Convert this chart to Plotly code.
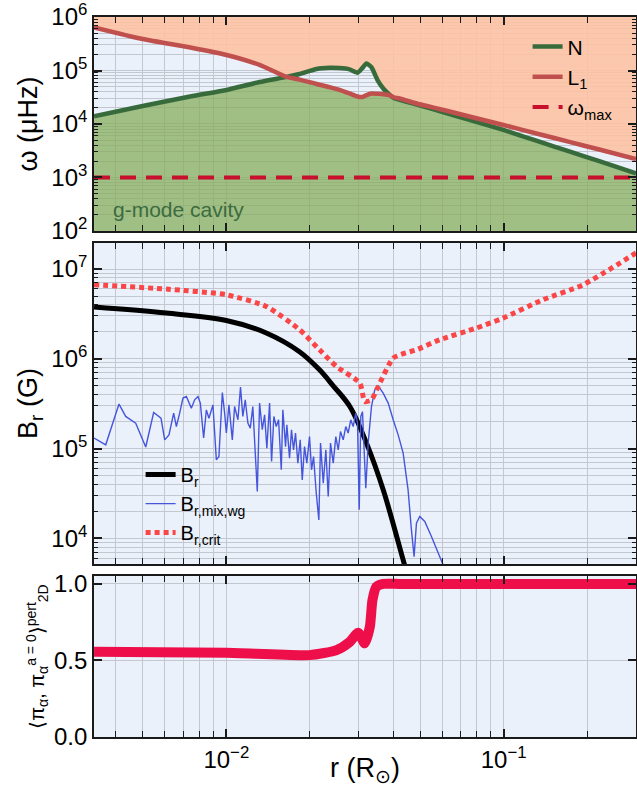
import numpy as np
import plotly.graph_objects as go

# ---------------- data ----------------
# radius grid for the frequency profiles (R_sun)
r_prof = [0.003335, 0.004995, 0.007561, 0.010025, 0.01318, 0.01649, 0.01836, 0.02115,
          0.02356, 0.02560, 0.02780, 0.02972, 0.03097, 0.03201, 0.03337, 0.03508,
          0.03686, 0.03876, 0.04006, 0.04210, 0.04969, 0.05866, 0.07521, 0.09975,
          0.1345, 0.1724, 0.2212, 0.3]
# Brunt-Vaisala frequency N (uHz)
N_freq = [1.39e4, 2.17e4, 3.33e4, 4.33e4, 6.10e4, 7.59e4, 8.61e4, 1.07e5,
          1.12e5, 1.11e5, 1.05e5, 9.12e4, 1.12e5, 1.35e5, 1.15e5, 6.61e4,
          4.57e4, 3.55e4, 3.09e4, 2.82e4, 2.24e4, 1.74e4, 1.20e4, 7.73e3,
          4.67e3, 3.07e3, 2.02e3, 1.20e3]
# Lamb frequency L1 (uHz)
L1_freq = [6.41e5, 3.88e5, 2.64e5, 1.95e5, 1.27e5, 7.57e4, 6.76e4, 5.60e4,
           4.90e4, 4.33e4, 3.72e4, 3.27e4, 3.20e4, 3.47e4, 3.72e4, 3.67e4,
           3.61e4, 3.47e4, 3.16e4, 2.99e4, 2.34e4, 1.91e4, 1.38e4, 9.57e3,
           6.44e3, 4.63e3, 3.33e3, 2.22e3]
omega_max = 1.0e3

# radial field B_r (G)
r_br = [0.003335, 0.006081, 0.01, 0.01393, 0.01836, 0.02168, 0.02429, 0.02788,
        0.03201, 0.03678, 0.04341, 0.04769]
B_r = [3.77e6, 3.23e6, 2.67e6, 1.94e6, 1.20e6, 7.54e5, 5.0e5, 2.94e5,
       1.15e5, 3.47e4, 5.74e3, 2.0e3]

# critical field B_r,crit (G)
r_crit = [0.003335, 0.006081, 0.01, 0.01393, 0.01836, 0.02168, 0.02496, 0.03029,
          0.03157, 0.03337, 0.03528, 0.03996, 0.04341, 0.04847, 0.05881, 0.07973,
          0.09950, 0.1386, 0.1932, 0.3]
B_crit = [6.68e6, 5.98e6, 5.17e6, 3.83e6, 2.11e6, 1.26e6, 8.20e5, 5.36e5,
          3.34e5, 3.49e5, 4.91e5, 1.02e6, 1.14e6, 1.26e6, 1.63e6, 2.20e6,
          2.84e6, 4.55e6, 6.68e6, 1.51e7]

# mixed-mode field B_r,mix,wg (G)
r_mix = [0.003335, 0.003674, 0.004102, 0.004337, 0.004713, 0.005122, 0.005470, 0.005814,
         0.005994, 0.006212, 0.006459, 0.006605, 0.006788, 0.006977, 0.007176, 0.007479,
         0.007687, 0.007901, 0.008059, 0.008283, 0.008472, 0.008655, 0.008947, 0.009204,
         0.009404, 0.009674, 0.009860, 0.01000, 0.01022, 0.01051, 0.01071, 0.01101,
         0.01125, 0.01147, 0.01170, 0.01196, 0.01220, 0.01246, 0.01293, 0.01318,
         0.01348, 0.01374, 0.01400, 0.01432, 0.01456, 0.01484, 0.01514, 0.01543,
         0.01578, 0.01599, 0.01635, 0.01653, 0.01690, 0.01718, 0.01747, 0.01776,
         0.01811, 0.01847, 0.01878, 0.01914, 0.01951, 0.01995, 0.02029, 0.02063,
         0.02110, 0.02156, 0.02186, 0.02236, 0.02285, 0.02330, 0.02375, 0.02429,
         0.02482, 0.02532, 0.02580, 0.02639, 0.02696, 0.02750, 0.02810, 0.02867,
         0.02929, 0.02972, 0.03014, 0.03054, 0.03097, 0.03141, 0.03183, 0.03247,
         0.03337, 0.03429, 0.03528, 0.03678, 0.03834, 0.03996, 0.04165, 0.04341,
         0.04522, 0.04649, 0.04754, 0.04847, 0.04982, 0.05193, 0.05490, 0.06015, 0.06306]
B_mix = [1.31e5, 1.10e5, 3.13e5, 2.28e5, 1.92e5, 1.04e5, 2.52e5, 2.18e5,
         1.25e5, 1.42e5, 2.48e5, 1.76e5, 2.48e5, 3.65e5, 3.80e5, 2.82e5,
         3.49e5, 3.80e5, 3.21e5, 1.31e5, 2.70e5, 2.18e5, 3.07e5, 7.48e4,
         8.15e4, 4.21e5, 2.48e5, 1.49e5, 3.07e5, 1.25e5, 2.94e5, 2.09e5,
         4.84e5, 2.28e5, 3.49e5, 1.92e5, 1.69e5, 2.94e5, 3.32e4, 3.21e5,
         1.62e5, 2.38e5, 1.01e5, 3.21e5, 7.16e4, 2.28e5, 1.76e5, 2.09e5,
         5.80e4, 2.70e5, 1.05e5, 1.84e5, 7.82e4, 1.62e5, 9.66e4, 1.49e5,
         6.87e4, 1.25e5, 4.48e4, 1.05e5, 6.87e4, 1.36e5, 5.80e4, 8.15e4,
         3.18e4, 1.60e4, 1.15e5, 4.11e4, 9.66e4, 2.92e4, 1.15e5, 6.87e4,
         1.36e5, 9.66e4, 1.55e5, 1.25e5, 1.76e5, 1.49e5, 2.09e5, 1.76e5,
         2.48e5, 1.92e5, 2.08e4, 2.28e5, 2.58e5, 7.16e4, 3.62e4, 1.15e5,
         2.94e5, 4.51e5, 5.00e5, 4.15e5, 3.21e5, 2.09e5, 1.42e5, 8.89e4,
         3.47e4, 1.24e4, 6.25e3, 1.47e4, 1.75e4, 1.54e4, 1.05e4, 5.27e3, 3.43e3]

# 2D perturbation overlap
r_pi = [0.003335, 0.01, 0.01995, 0.02496, 0.02788, 0.02988, 0.03157, 0.03292,
        0.03365, 0.03478, 0.03678, 0.0421, 0.1, 0.3]
pi_overlap = [0.557, 0.550, 0.535, 0.568, 0.622, 0.681, 0.612, 0.720,
              0.895, 0.982, 1.0, 1.0, 1.0, 1.0]

x_major = [0.01, 0.1]
x_major_text = ["10<sup>\u22122</sup>", "10<sup>\u22121</sup>"]
y1_major = [1e2, 1e3, 1e4, 1e5, 1e6]
y2_major = [1e4, 1e5, 1e6, 1e7]
y3_major = [0.0, 0.5, 1.0]

# ---------------- styling ----------------
FONT = "Liberation Sans, Arial, Helvetica, sans-serif"
BG = "#eaf1fb"
GRID = "#c3c7cf"
AXC = "#1a1a1a"
TICK_SIZE = 24
TITLE_SIZE = 27

x_minor = [m * 10.0 ** e for e in (-3, -2, -1) for m in range(2, 10)]
x_minor = [v for v in x_minor if 1 / 300 <= v <= 0.3 and v not in (0.01, 0.1)]


def log_minor(lo, hi):
    return [m * 10.0 ** e for e in range(lo, hi + 1) for m in range(2, 10)]


fig = go.Figure()

# ---- top panel: propagation diagram ----
N_arr = np.array(N_freq)
L_arr = np.array(L1_freq)
lower = np.minimum(N_arr, L_arr)
upper = np.maximum(N_arr, L_arr)
SPL = dict(shape="spline", smoothing=0.5)

fig.add_trace(go.Scatter(x=r_prof, y=[1.0] * len(r_prof), mode="lines",
                         line=dict(width=0), showlegend=False, hoverinfo="skip",
                         xaxis="x", yaxis="y"))
fig.add_trace(go.Scatter(x=r_prof, y=lower, mode="lines", line=dict(width=0, **SPL),
                         fill="tonexty", fillcolor="rgba(135,174,94,0.75)",
                         showlegend=False, hoverinfo="skip", xaxis="x", yaxis="y"))
fig.add_trace(go.Scatter(x=r_prof, y=upper, mode="lines", line=dict(width=0, **SPL),
                         showlegend=False, hoverinfo="skip", xaxis="x", yaxis="y"))
fig.add_trace(go.Scatter(x=r_prof, y=[1e8] * len(r_prof), mode="lines",
                         line=dict(width=0), fill="tonexty",
                         fillcolor="rgba(255,193,159,0.86)",
                         showlegend=False, hoverinfo="skip", xaxis="x", yaxis="y"))

fig.add_trace(go.Scatter(x=r_prof, y=N_freq, mode="lines", name="N",
                         line=dict(color="#386b3c", width=4.5, **SPL),
                         xaxis="x", yaxis="y", legend="legend"))
fig.add_trace(go.Scatter(x=r_prof, y=L1_freq, mode="lines", name="L<sub>1</sub>",
                         line=dict(color="#c0504d", width=4.5, **SPL),
                         xaxis="x", yaxis="y", legend="legend"))
fig.add_trace(go.Scatter(x=[1 / 300, 0.3], y=[omega_max, omega_max], mode="lines",
                         name="\u03c9<sub>max</sub>",
                         line=dict(color="#c8102e", width=4, dash="16px,10px"),
                         xaxis="x", yaxis="y", legend="legend"))

# ---- middle panel: field strengths ----
fig.add_trace(go.Scatter(x=r_br, y=B_r, mode="lines", name="B<sub>r</sub>",
                         line=dict(color="black", width=5, shape="spline"),
                         xaxis="x2", yaxis="y2", legend="legend2"))
fig.add_trace(go.Scatter(x=r_mix, y=B_mix, mode="lines",
                         name="B<sub>r,mix,wg</sub>",
                         line=dict(color="#4656dc", width=1.4),
                         xaxis="x2", yaxis="y2", legend="legend2"))
fig.add_trace(go.Scatter(x=r_crit, y=B_crit, mode="lines",
                         name="B<sub>r,crit</sub>",
                         line=dict(color="#fa4646", width=5, dash="5px,4px",
                                   shape="spline", smoothing=0.6),
                         xaxis="x2", yaxis="y2", legend="legend2"))

# ---- bottom panel: overlap ----
fig.add_trace(go.Scatter(x=r_pi, y=pi_overlap, mode="lines", showlegend=False,
                         line=dict(color="#ee0f4a", width=10, shape="spline",
                                   smoothing=0.6),
                         xaxis="x3", yaxis="y3"))

fig.add_annotation(text="g-mode cavity", xref="paper", yref="paper",
                   x=0.031, y=0.732, xanchor="left", yanchor="middle",
                   showarrow=False, font=dict(family=FONT, size=21, color="#3c6b40"))

# ---------------- axes ----------------
xr = [np.log10(1 / 300), np.log10(0.3)]
common_x = dict(type="log", range=xr, tickmode="array", tickvals=x_major,
                ticktext=x_major_text, ticks="inside", ticklen=8, tickwidth=1.5,
                tickcolor=AXC, mirror="allticks", showline=True, linecolor=AXC,
                linewidth=1.6, showgrid=True, gridcolor=GRID, gridwidth=1,
                zeroline=False, automargin=False,
                minor=dict(tickmode="array", tickvals=x_minor, ticks="inside",
                           ticklen=6, tickwidth=1.2, tickcolor=AXC,
                           showgrid=True, gridcolor=GRID, gridwidth=1),
                tickfont=dict(family=FONT, size=TICK_SIZE, color="black"))

common_y = dict(ticks="inside", ticklen=8, tickwidth=1.5, tickcolor=AXC,
                mirror="allticks", showline=True, linecolor=AXC, linewidth=1.6,
                showgrid=True, gridcolor=GRID, gridwidth=1, zeroline=False,
                automargin=False,
                tickfont=dict(family=FONT, size=TICK_SIZE, color="black"),
                title_font=dict(family=FONT, size=TITLE_SIZE, color="black"))

D1 = [0.7028, 1.0]
D2 = [0.2403, 0.6861]
D3 = [0.0, 0.2236]

fig.update_layout(
    xaxis=dict(common_x, anchor="y", showticklabels=False),
    xaxis2=dict(common_x, anchor="y2", matches="x", showticklabels=False),
    xaxis3=dict(common_x, anchor="y3", matches="x", showticklabels=True,
                title=dict(text="r (R<sub>\u2299</sub>)", standoff=4,
                           font=dict(family=FONT, size=TITLE_SIZE, color="black"))),
    yaxis=dict(common_y, domain=D1, anchor="x", type="log", range=[2, 6],
               tickmode="array", tickvals=y1_major,
               ticktext=["10<sup>%d</sup>" % k for k in range(2, 7)],
               title=dict(text="\u03c9 (\u03bcHz)", standoff=6),
               minor=dict(tickmode="array", tickvals=log_minor(2, 5), ticks="inside",
                          ticklen=4, tickwidth=1.2, tickcolor=AXC, showgrid=True,
                          gridcolor=GRID, gridwidth=1)),
    yaxis2=dict(common_y, domain=D2, anchor="x2", type="log", range=[3.714, 7.29],
                tickmode="array", tickvals=y2_major,
                ticktext=["10<sup>%d</sup>" % k for k in range(4, 8)],
                title=dict(text="B<sub>r</sub> (G)", standoff=6),
                minor=dict(tickmode="array", tickvals=log_minor(3, 7), ticks="inside",
                           ticklen=4, tickwidth=1.2, tickcolor=AXC, showgrid=True,
                           gridcolor=GRID, gridwidth=1)),
    yaxis3=dict(common_y, domain=D3, anchor="x3", range=[0, 1.052],
                tickmode="array", tickvals=y3_major, ticktext=["0.0", "0.5", "1.0"],
                title=dict(text="\u27e8\u03c0<sub>\u03b1</sub>, \u03c0<sub>\u03b1</sub>"
                                "<sup>a = 0</sup>\u27e9<sup>pert</sup><sub>2D</sub>",
                           standoff=4,
                           font=dict(family=FONT, size=20, color="black"))),
    legend=dict(x=0.80, y=0.987, xanchor="left", yanchor="top", traceorder="normal",
                bgcolor="rgba(0,0,0,0)", font=dict(family=FONT, size=21, color="black"),
                tracegroupgap=0),
    legend2=dict(x=0.086, y=0.3915, xanchor="left", yanchor="top", traceorder="normal",
                 bgcolor="rgba(0,0,0,0)", font=dict(family=FONT, size=20, color="black"),
                 tracegroupgap=0),
    plot_bgcolor=BG,
    paper_bgcolor="white",
    width=637, height=787,
    margin=dict(l=94, r=1, t=17, b=50),
    font=dict(family=FONT, size=20, color="black"),
    showlegend=True,
)

fig.write_html("out.html")
